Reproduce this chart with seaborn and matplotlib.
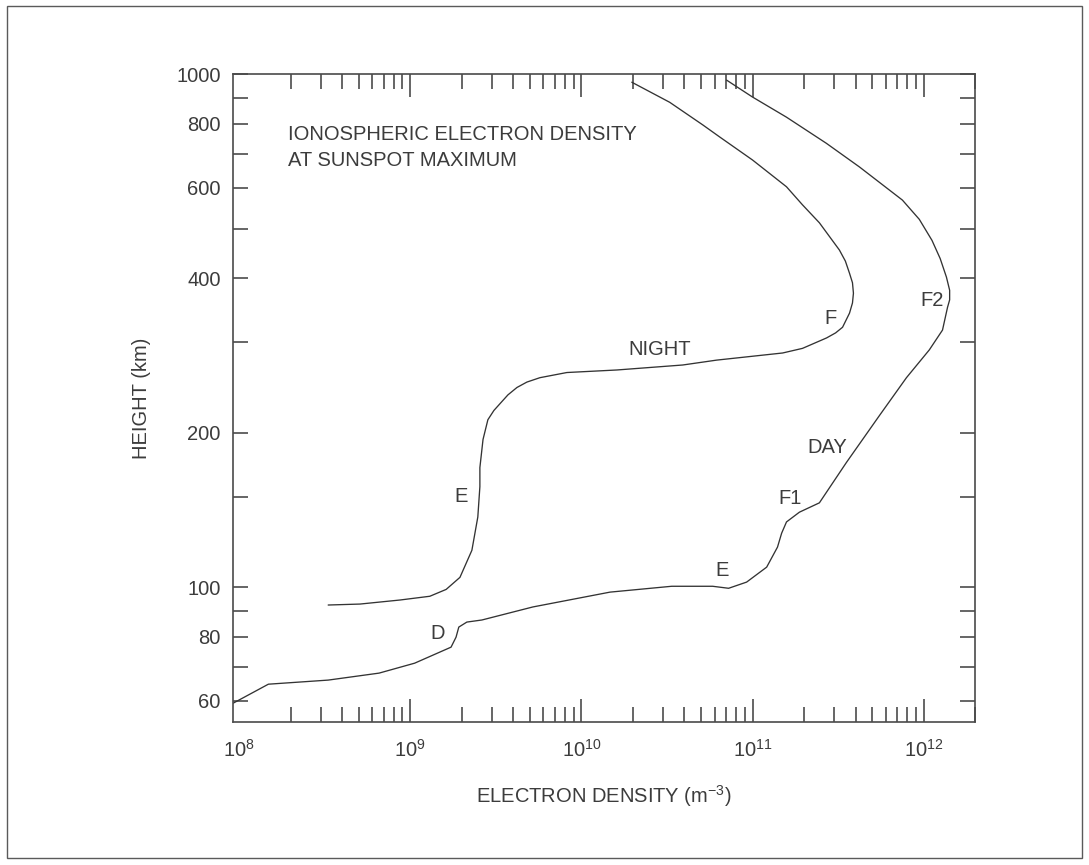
import matplotlib.pyplot as plt
import matplotlib.ticker as mticker
import numpy as np
import pandas as pd
import seaborn as sns
from matplotlib.patches import Rectangle

# Night profile (electron density m^-3, height km)
NIGHT_DENSITY = [3.31e8, 5.08e8, 8.71e8, 1.30e9, 1.62e9, 1.95e9, 2.29e9, 2.48e9,
                 2.55e9, 2.55e9, 2.66e9, 2.84e9, 3.08e9, 3.43e9, 3.72e9, 4.20e9,
                 4.80e9, 5.72e9, 8.22e9, 1.61e10, 3.91e10, 6.17e10, 1.50e11,
                 1.96e11, 2.71e11, 3.06e11, 3.36e11, 3.69e11, 3.84e11, 3.89e11,
                 3.84e11, 3.69e11, 3.49e11, 3.22e11, 2.46e11, 1.96e11, 1.58e11,
                 1.00e11, 6.43e10, 5.12e10, 3.28e10, 1.97e10]
NIGHT_HEIGHT = [92.3, 92.7, 94.4, 96.0, 99.0, 104.5, 118, 137,
                157, 171, 194, 212, 221, 230, 237, 245,
                251, 256, 262, 265, 271, 277, 286,
                292, 306, 313, 321, 342, 358, 374,
                392, 409, 432, 454, 513, 556, 603,
                680, 754, 796, 881, 964]

# Day profile
DAY_DENSITY = [9.2e7, 1.48e8, 3.31e8, 6.57e8, 1.06e9, 1.73e9, 1.85e9, 1.92e9,
               2.14e9, 2.62e9, 5.20e9, 1.47e10, 3.37e10, 5.85e10, 7.25e10,
               9.24e10, 1.21e11, 1.40e11, 1.48e11, 1.58e11, 1.88e11, 2.46e11,
               3.54e11, 5.52e11, 7.94e11, 1.08e12, 1.29e12, 1.38e12, 1.42e12,
               1.42e12, 1.36e12, 1.25e12, 1.12e12, 9.44e11, 7.52e11, 4.22e11,
               2.70e11, 1.58e11, 1.00e11, 7.06e10]
DAY_HEIGHT = [59.4, 64.7, 65.9, 68.0, 71.1, 76.4, 79.9, 83.6,
              85.5, 86.3, 91.5, 97.8, 100.4, 100.4, 99.5,
              102.3, 109.4, 119.7, 127.4, 134, 140, 146,
              175, 216, 256, 290, 317, 351, 363,
              379, 402, 437, 474, 521, 568, 659,
              733, 824, 902, 973]

# Layer labels: (text, density, height)
LAYER_LABELS = [
    ("NIGHT", 2.87e10, 290),
    ("F", 2.86e11, 334),
    ("F2", 1.12e12, 362),
    ("DAY", 2.74e11, 187),
    ("F1", 1.65e11, 149),
    ("E", 6.6e10, 108),
    ("E", 1.98e9, 150),
    ("D", 1.45e9, 81.3),
]

Y_MAJOR = [60, 80, 100, 200, 400, 600, 800, 1000]
Y_MINOR = [70, 90, 150, 300, 500, 700, 900]
X_DECADES = [1e8, 1e9, 1e10, 1e11, 1e12]

INK = "#3c3c3c"
FONT = ["Liberation Sans Narrow", "Liberation Sans", "DejaVu Sans"]
FS = 14.5


def main() -> None:
    sns.set_theme(style="ticks")
    plt.rcParams["font.family"] = FONT
    plt.rcParams["mathtext.default"] = "regular"
    plt.rcParams["text.color"] = INK
    plt.rcParams["axes.labelcolor"] = INK
    plt.rcParams["xtick.color"] = INK
    plt.rcParams["ytick.color"] = INK

    fig = plt.figure(figsize=(10.89, 8.65), dpi=100)
    ax = fig.add_axes([0.2140, 0.1653, 0.6814, 0.7491])

    night = pd.DataFrame({"density": NIGHT_DENSITY, "height": NIGHT_HEIGHT})
    day = pd.DataFrame({"density": DAY_DENSITY, "height": DAY_HEIGHT})
    for df in (night, day):
        sns.lineplot(data=df, x="density", y="height", sort=False, estimator=None,
                     color="#333333", linewidth=0.95, ax=ax)

    ax.set_xscale("log")
    ax.set_yscale("log")
    ax.set_xlim(9.2e7, 2.0e12)
    ax.set_ylim(54.6, 1000)

    ax.xaxis.set_major_locator(mticker.FixedLocator(X_DECADES))
    ax.xaxis.set_minor_locator(mticker.LogLocator(base=10, subs=np.arange(2, 10), numticks=20))
    ax.xaxis.set_major_formatter(mticker.FuncFormatter(lambda v, p: f"$10^{{{int(round(np.log10(v)))}}}$"))
    ax.xaxis.set_minor_formatter(mticker.NullFormatter())

    ax.yaxis.set_major_locator(mticker.FixedLocator(Y_MAJOR))
    ax.yaxis.set_minor_locator(mticker.FixedLocator(Y_MINOR))
    ax.yaxis.set_major_formatter(mticker.FixedFormatter([str(v) for v in Y_MAJOR]))
    ax.yaxis.set_minor_formatter(mticker.NullFormatter())

    ax.tick_params(axis="both", which="both", direction="in", top=True, right=True,
                   width=1.1, labelsize=FS)
    ax.tick_params(axis="x", which="major", length=16.5, pad=12)
    ax.tick_params(axis="x", which="minor", length=10.8)
    ax.tick_params(axis="y", which="both", length=10.8, pad=9)

    # the 10^8 tick sits on the left spine, so only its label shows
    first = ax.xaxis.get_major_ticks()[0]
    first.tick1line.set_visible(False)
    first.tick2line.set_visible(False)

    for spine in ax.spines.values():
        spine.set_color("#4a4a4a")
        spine.set_linewidth(1.2)

    ax.set_xlabel("ELECTRON DENSITY (m$^{-3}$)", fontsize=FS, labelpad=16)
    ax.set_ylabel("HEIGHT (km)", fontsize=FS, labelpad=18)

    ax.text(0.074, 0.922, "IONOSPHERIC ELECTRON DENSITY\nAT SUNSPOT MAXIMUM",
            transform=ax.transAxes, ha="left", va="top", fontsize=FS, linespacing=1.5)

    for label, dens, height in LAYER_LABELS:
        ax.text(dens, height, label, ha="center", va="center", fontsize=FS)

    fig.patches.append(Rectangle((7 / 1089, 1 - 858 / 865), 1075 / 1089, 852 / 865,
                                 transform=fig.transFigure, fill=False,
                                 edgecolor="#5a5a5a", linewidth=1.0))

    fig.savefig("out.png", dpi=100)
    plt.close(fig)


if __name__ == "__main__":
    main()
